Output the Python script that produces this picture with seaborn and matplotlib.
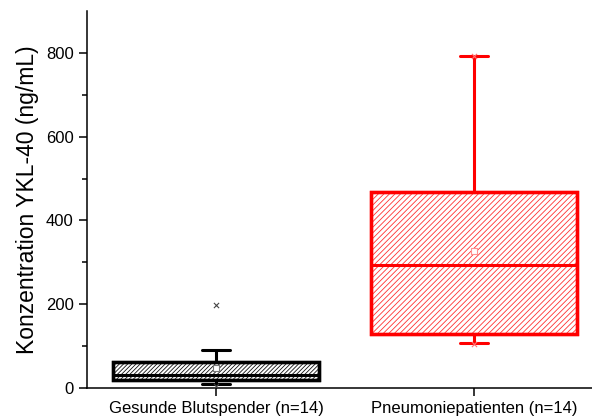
import matplotlib
matplotlib.use("Agg")
import matplotlib.pyplot as plt
from matplotlib.patches import PathPatch
import seaborn as sns
import pandas as pd

categories = ["Gesunde Blutspender (n=14)", "Pneumoniepatienten (n=14)"]
q1 = [19, 129]
median = [31, 294]
q3 = [62, 467]
whislo = [9, 107]
whishi = [91, 792]
mean = [48, 327]
minimum = [5, 105]
maximum = [198, 792]

colors = ["#000000", "#ff0000"]
hatch_colors = ["#111111", "#ff3030"]
hatches = ["////////", "//////"]
mean_colors = ["#777777", "#ff9090"]
ext_colors = ["#444444", "#ff7070"]

sns.set_style("ticks")
plt.rcParams["font.family"] = ["Liberation Sans", "DejaVu Sans"]
plt.rcParams["hatch.linewidth"] = 0.6
for k in ["text.color", "axes.labelcolor", "xtick.color", "ytick.color", "axes.edgecolor"]:
    plt.rcParams[k] = "black"

fig = plt.figure(figsize=(5.92, 4.19), dpi=100)
ax = fig.add_axes([87 / 592, 31 / 419, 516 / 592, 377 / 419])

for i in range(len(categories)):
    stats = [dict(med=median[i], q1=q1[i], q3=q3[i], whislo=whislo[i],
                  whishi=whishi[i], mean=mean[i], fliers=[], label=categories[i])]
    c = colors[i]
    bp = ax.bxp(stats, positions=[i], widths=0.8, patch_artist=True,
                showmeans=False, showfliers=False, capwidths=0.105,
                boxprops=dict(facecolor="white", edgecolor=c, linewidth=2.4),
                medianprops=dict(color=c, linewidth=2.2),
                whiskerprops=dict(color=c, linewidth=2.2),
                capprops=dict(color=c, linewidth=2.2),
                manage_ticks=False)
    box = bp["boxes"][0]
    box.set_zorder(2)
    hp = PathPatch(box.get_path(), facecolor="none", edgecolor=hatch_colors[i],
                   linewidth=0, hatch=hatches[i], zorder=2.1)
    ax.add_patch(hp)
    overlay = PathPatch(box.get_path(), facecolor="none", edgecolor=c,
                        linewidth=2.4, zorder=2.2)
    ax.add_patch(overlay)
    for ln in bp["medians"]:
        ln.set_zorder(2.3)

df_mean = pd.DataFrame({"x": [0, 1], "y": mean, "g": categories})
df_ext = pd.DataFrame({"x": [0, 0, 1, 1],
                       "y": [minimum[0], maximum[0], minimum[1], maximum[1]],
                       "g": [categories[0], categories[0], categories[1], categories[1]]})
for i in range(2):
    sub = df_mean[df_mean["g"] == categories[i]]
    ax.scatter(sub["x"], sub["y"], marker="s", s=14, facecolors="white",
               edgecolors=mean_colors[i], linewidths=0.8, zorder=3)
    sub = df_ext[df_ext["g"] == categories[i]]
    ax.scatter(sub["x"], sub["y"], marker="x", s=14, color=ext_colors[i],
               linewidths=0.8, zorder=3)

ax.set_xlim(-0.5, 1.5)
ax.set_ylim(0, 900)
ax.set_xticks([0, 1])
ax.set_xticklabels(categories, fontsize=12)
ax.set_yticks([0, 200, 400, 600, 800])
ax.set_yticks([100, 300, 500, 700], minor=True)
ax.tick_params(axis="y", labelsize=12)
ax.tick_params(which="major", length=6, width=1.1, direction="out", color="black")
ax.tick_params(which="minor", length=3.5, width=1.1, direction="out", color="black")
ax.set_xlabel("")
ax.set_ylabel("Konzentration YKL-40 (ng/mL)", fontsize=16.5, labelpad=5)
sns.despine(ax=ax)
for s in ["left", "bottom"]:
    ax.spines[s].set_linewidth(1.1)
    ax.spines[s].set_color("black")

fig.savefig("out.png", dpi=100)
